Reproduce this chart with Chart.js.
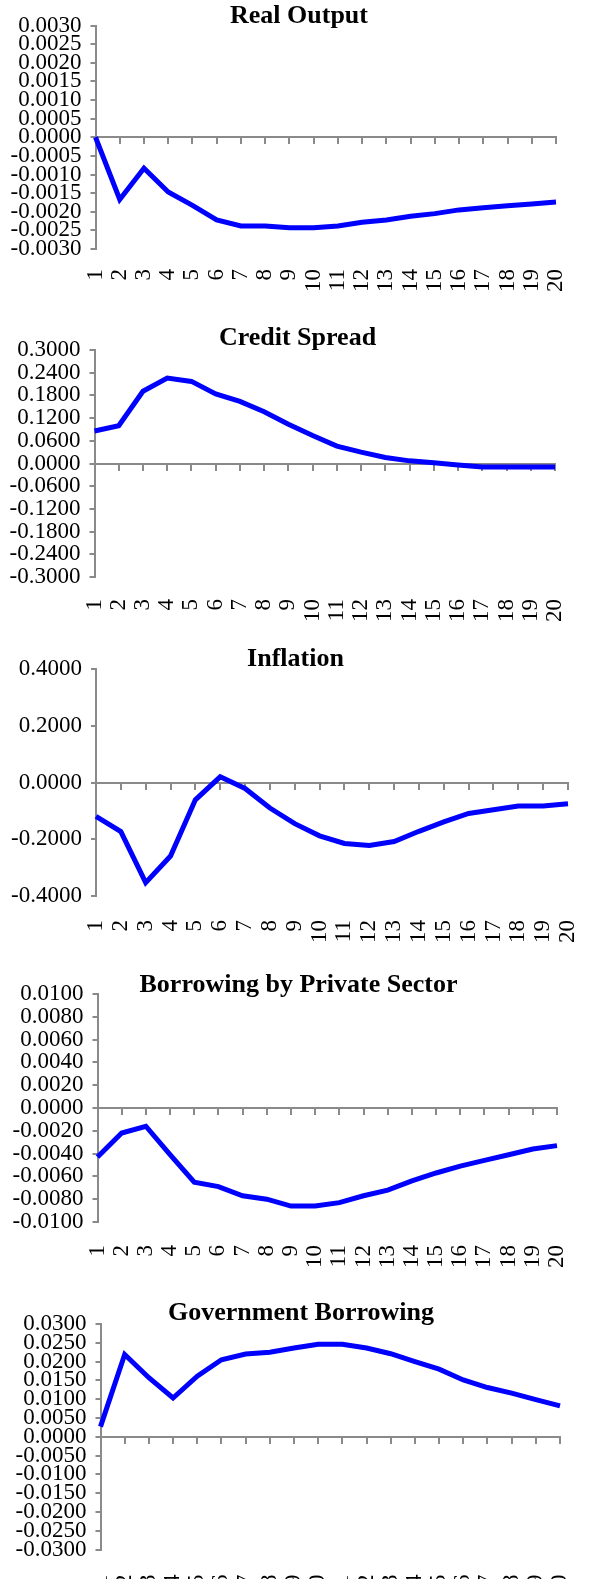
<!DOCTYPE html>
<html>
<head>
<meta charset="utf-8">
<script src="https://cdn.jsdelivr.net/npm/chart.js@4/dist/chart.umd.min.js"></script>
<style>
  html, body { margin: 0; padding: 0; background: #fff; width: 589px; height: 1579px; overflow: hidden; position: relative; }
  canvas { position: absolute; left: 0; }
</style>
</head>
<body>
<canvas id="realOutputChart"></canvas>
<canvas id="creditSpreadChart"></canvas>
<canvas id="inflationChart"></canvas>
<canvas id="privateBorrowingChart"></canvas>
<canvas id="govBorrowingChart"></canvas>
<script>
// Quarters after the shock
const periods = ['1','2','3','4','5','6','7','8','9','10','11','12','13','14','15','16','17','18','19','20'];

// Impulse responses
const realOutput = [0.0000, -0.00167, -0.00083, -0.00147, -0.00183, -0.00222, -0.00238, -0.00238, -0.00243, -0.00243,
                    -0.00238, -0.00228, -0.00222, -0.00212, -0.00205, -0.00195, -0.00189, -0.00184, -0.00179, -0.00174];
const creditSpread = [0.086, 0.100, 0.191, 0.226, 0.217, 0.184, 0.164, 0.137, 0.104, 0.074,
                      0.046, 0.030, 0.016, 0.007, 0.002, -0.004, -0.009, -0.009, -0.009, -0.0095];
const inflation = [-0.119, -0.173, -0.353, -0.259, -0.061, 0.020, -0.021, -0.090, -0.145, -0.188,
                   -0.215, -0.222, -0.208, -0.172, -0.139, -0.109, -0.096, -0.083, -0.083, -0.075];
const privateBorrowing = [-0.0043, -0.0022, -0.0016, -0.0041, -0.0065, -0.0069, -0.0077, -0.0080, -0.0086, -0.0086,
                          -0.0083, -0.0077, -0.0072, -0.0064, -0.0057, -0.0051, -0.0046, -0.0041, -0.0036, -0.0033];
const govBorrowing = [0.0027, 0.0219, 0.0157, 0.0103, 0.0161, 0.0205, 0.0220, 0.0225, 0.0236, 0.0246,
                      0.0246, 0.0236, 0.0221, 0.0200, 0.0180, 0.0151, 0.0131, 0.0116, 0.0099, 0.0082];

// Value-axis tick marks for each panel
const realOutputTicks = [0.003, 0.0025, 0.002, 0.0015, 0.001, 0.0005, 0, -0.0005, -0.001, -0.0015, -0.002, -0.0025, -0.003];
const creditSpreadTicks = [0.3, 0.24, 0.18, 0.12, 0.06, 0, -0.06, -0.12, -0.18, -0.24, -0.3];
const inflationTicks = [0.4, 0.2, 0, -0.2, -0.4];
const privateBorrowingTicks = [0.01, 0.008, 0.006, 0.004, 0.002, 0, -0.002, -0.004, -0.006, -0.008, -0.01];
const govBorrowingTicks = [0.03, 0.025, 0.02, 0.015, 0.01, 0.005, 0, -0.005, -0.01, -0.015, -0.02, -0.025, -0.03];

const AXIS_GREY = '#8a8a8a';
const SERIF = "'Liberation Serif', 'Times New Roman', serif";
const TITLE_SIZE = 26;
const TICK_SIZE = 23;
const TITLE_LINE = 15;   // px reserved for the title line
const X_LABEL_BAND = 58; // px reserved under each plot for the period labels

// Page placement of each panel (page pixels)
const panels = [
  { id: 'realOutputChart', title: 'Real Output', values: realOutput, ticks: realOutputTicks,
    frame: { axisX: 95.5, plotRight: 556, plotTop: 25.5, plotBottom: 249, titleX: 299, titleY: 16.7, labelGap: 12 } },
  { id: 'creditSpreadChart', title: 'Credit Spread', values: creditSpread, ticks: creditSpreadTicks,
    frame: { axisX: 94.5, plotRight: 555, plotTop: 350, plotBottom: 577, titleX: 297.6, titleY: 338.5, labelGap: 14 } },
  { id: 'inflationChart', title: 'Inflation', values: inflation, ticks: inflationTicks,
    frame: { axisX: 96, plotRight: 568, plotTop: 669, plotBottom: 896, titleX: 295.7, titleY: 659, labelGap: 16 } },
  { id: 'privateBorrowingChart', title: 'Borrowing by Private Sector', values: privateBorrowing, ticks: privateBorrowingTicks,
    frame: { axisX: 97.5, plotRight: 557, plotTop: 994, plotBottom: 1222, titleX: 298.3, titleY: 984.8, labelGap: 15 } },
  { id: 'govBorrowingChart', title: 'Government Borrowing', values: govBorrowing, ticks: govBorrowingTicks,
    frame: { axisX: 100.5, plotRight: 560, plotTop: 1324, plotBottom: 1549.5, titleX: 301, titleY: 1313, labelGap: 17 } }
];

function drawPanel(panel) {
  const f = panel.frame;
  const top = Math.round(f.titleY - TITLE_LINE / 2 - 4);
  const padTop = f.titleY - TITLE_LINE / 2 - top;
  const padBottom = f.plotTop - f.titleY - TITLE_LINE / 2;
  const width = Math.round(2 * f.titleX);
  const height = Math.round(f.plotBottom - top + X_LABEL_BAND);
  const xBand = height - (f.plotBottom - top);

  const canvas = document.getElementById(panel.id);
  canvas.width = width;
  canvas.height = height;
  canvas.style.top = top + 'px';
  canvas.style.width = width + 'px';
  canvas.style.height = height + 'px';

  new Chart(canvas, {
    type: 'line',
    data: {
      labels: periods,
      datasets: [{
        data: panel.values,
        xAxisID: 'x',
        yAxisID: 'y',
        borderColor: '#0000ff',
        borderWidth: 5,
        pointRadius: 0,
        pointHoverRadius: 0,
        fill: false,
        tension: 0
      }]
    },
    options: {
      responsive: false,
      animation: false,
      devicePixelRatio: 1,
      layout: { padding: 0 },
      plugins: {
        legend: { display: false },
        tooltip: { enabled: false },
        title: {
          display: true,
          text: panel.title,
          color: '#000',
          font: { family: SERIF, size: TITLE_SIZE, weight: 'bold', lineHeight: TITLE_LINE / TITLE_SIZE },
          padding: { top: padTop, bottom: padBottom }
        }
      },
      scales: {
        // period labels along the bottom of the plot
        x: {
          type: 'category',
          position: 'bottom',
          offset: false,
          grid: { display: false },
          border: { display: false },
          ticks: {
            color: '#000',
            font: { family: SERIF, size: TICK_SIZE },
            minRotation: 90,
            maxRotation: 90,
            autoSkip: false,
            padding: f.labelGap
          },
          afterFit: s => {
            s.height = xBand;
            s.paddingLeft = 0;
            s.paddingRight = 0;
          }
        },
        // horizontal axis line crossing at zero, with its tick marks
        x0: {
          type: 'category',
          position: { y: 0 },
          offset: false,
          grid: { display: true, drawOnChartArea: false, drawTicks: true, tickLength: 6, color: AXIS_GREY, lineWidth: 2 },
          border: { display: true, color: AXIS_GREY, width: 2 },
          ticks: { display: false },
          afterFit: s => { s.paddingLeft = 0; s.paddingRight = 0; }
        },
        y: {
          type: 'linear',
          position: 'left',
          min: Math.min(...panel.ticks),
          max: Math.max(...panel.ticks),
          afterBuildTicks: s => { s.ticks = panel.ticks.map(v => ({ value: v })); },
          grid: { display: true, drawOnChartArea: false, drawTicks: true, tickLength: 5, color: AXIS_GREY, lineWidth: 2 },
          border: { display: true, color: AXIS_GREY, width: 2 },
          ticks: {
            color: '#000',
            font: { family: SERIF, size: TICK_SIZE },
            padding: 9,
            autoSkip: false,
            callback: v => Number(v).toFixed(4)
          },
          afterFit: s => {
            s.width = f.axisX;
            s.paddingTop = 0;
            s.paddingBottom = 0;
          }
        },
        // empty right-hand margin so the title stays centred on the page
        yMargin: {
          type: 'linear',
          position: 'right',
          display: true,
          grid: { display: false },
          border: { display: false },
          ticks: { display: false },
          afterFit: s => { s.width = width - f.plotRight; }
        }
      }
    }
  });
}

panels.forEach(drawPanel);
</script>
</body>
</html>
